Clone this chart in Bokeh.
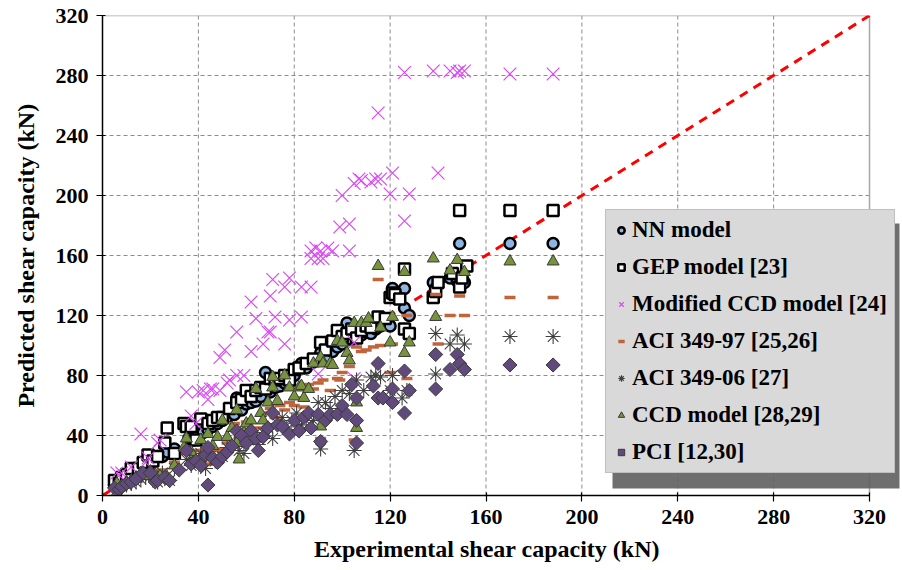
from bokeh.plotting import figure
from bokeh.models import Range1d, FixedTicker, Legend, LegendItem, BoxAnnotation, Title
from bokeh.embed import file_html
from bokeh.resources import INLINE
import math

# ---------------- data ----------------
ticks = [0, 40, 80, 120, 160, 200, 240, 280, 320]
diag = [0, 320]

nn_x = [5, 7, 8, 9, 10, 12, 14, 16, 18, 20, 23, 25, 27, 30, 36, 38, 40, 42, 44, 46, 48, 50, 52, 55, 56, 58, 60, 62, 64, 66,
        68, 70, 72, 74, 76, 78, 80, 83, 85, 88, 91, 93, 96, 98, 100, 102, 104, 106, 108, 110, 112, 114, 116, 120, 121,
        126, 126, 128, 138, 139, 145, 148, 149, 151, 170, 188]
nn_y = [7, 8, 9, 8, 11, 12, 14, 17, 19, 21, 26, 26, 29, 31, 38, 37, 41, 42, 44, 46, 48, 50, 52, 54, 65, 57, 61, 62, 63, 66,
        82, 69, 72, 73, 75, 78, 80, 88, 85, 89, 95, 92, 96, 99, 101, 115, 104, 105, 107, 109, 108, 111, 113, 113, 138,
        138, 125, 120, 142, 138, 145, 143, 168, 142, 168, 168]

gep_x = [5, 7, 8, 10, 12, 15, 17, 19, 21, 23, 26, 27, 30, 34, 35, 37, 39, 41, 44, 46, 48, 50, 53, 56, 58, 60, 62, 64, 66, 68,
         70, 72, 74, 76, 78, 80, 82, 85, 88, 91, 93, 96, 98, 100, 102, 104, 106, 108, 110, 112, 115, 118, 120, 121, 122,
         124, 126, 126, 128, 138, 139, 140, 146, 149, 149, 150, 152, 170, 188]
gep_y = [10, 8, 12, 14, 18, 18, 22, 27, 23, 26, 35, 45, 28, 48, 46, 46, 37, 51, 48, 50, 52, 52, 58, 62, 64, 70, 66, 70, 72, 71,
         78, 77, 78, 80, 77, 84, 85, 88, 91, 102, 97, 103, 110, 106, 108, 111, 105, 110, 113, 112, 119, 118, 132, 135, 134,
         131, 151, 111, 108, 132, 136, 142, 148, 139, 190, 145, 153, 190, 190]

mccd_x = [6, 8, 12, 16, 18, 19, 23, 24, 35, 37, 39, 40, 42, 44, 45, 46, 49, 49, 51, 52, 53, 56, 56, 59, 62, 62, 64, 67, 69, 70,
          70, 71, 72, 76, 76, 78, 78, 83, 83, 87, 87, 87, 89, 90, 90, 91, 92, 94, 96, 99, 100, 103, 103, 105, 105, 105, 107,
          108, 112, 114, 115, 116, 120, 121, 126, 126, 128, 138, 140, 145, 148, 149, 151, 170, 188]
mccd_y = [15, 15, 19, 41, 22, 25, 35, 37, 69, 53, 48, 69, 70, 64, 71, 71, 70, 92, 97, 75, 77, 80, 109, 80, 96, 129, 118, 101,
          109, 109, 133, 144, 119, 101, 139, 117, 145, 119, 139, 139, 158, 163, 165, 158, 81, 163, 158, 165, 163, 179, 200,
          163, 181, 208, 102, 78, 211, 210, 209, 211, 255, 211, 201, 215, 183, 282, 201, 283, 215, 283, 282, 283, 283, 281, 281]

a97_x = [6, 8, 10, 12, 14, 17, 20, 23, 25, 27, 30, 35, 37, 40, 42, 44, 46, 48, 50, 52, 55, 57, 60, 62, 65, 67, 70, 72, 74, 76,
         78, 80, 82, 84, 86, 88, 90, 91, 92, 95, 98, 99, 100, 103, 105, 106, 108, 110, 113, 115, 116, 120, 121, 127, 127,
         139, 140, 145, 149, 151, 170, 188]
a97_y = [5, 7, 8, 9, 10, 13, 14, 10, 17, 11, 22, 28, 24, 30, 30, 21, 30, 31, 29, 35, 48, 38, 49, 41, 45, 55, 58, 52, 60, 57,
         62, 60, 65, 59, 74, 71, 75, 38, 77, 70, 78, 77, 82, 86, 37, 99, 96, 97, 99, 144, 100, 82, 101, 120, 78,
         134, 101, 120, 133, 120, 132, 132]

a06_x = [6, 8, 10, 12, 14, 16, 18, 20, 23, 25, 28, 30, 35, 37, 39, 41, 43, 45, 47, 50, 52, 55, 57, 59, 61, 63, 65, 67, 69, 71,
         73, 75, 77, 79, 81, 83, 85, 88, 90, 91, 93, 95, 97, 100, 103, 105, 106, 109, 112, 114, 116, 120, 121, 125, 127,
         139, 139, 145, 148, 151, 170, 188]
a06_y = [4, 6, 7, 8, 9, 11, 12, 13, 9, 15, 10, 18, 24, 20, 25, 28, 18, 26, 23, 26, 32, 35, 30, 28, 37, 40, 34, 42, 45, 38,
         48, 52, 44, 50, 55, 47, 50, 50, 62, 31, 62, 58, 66, 70, 68, 30, 77, 70, 79, 80, 79, 70, 80, 65, 70,
         108, 81, 101, 107, 101, 106, 106]

ccd_x = [6, 8, 10, 12, 14, 16, 18, 20, 22, 24, 27, 30, 34, 35, 37, 37, 39, 41, 41, 44, 44, 46, 48, 50, 52, 54, 56, 56, 57, 59,
         60, 62, 62, 64, 66, 67, 69, 71, 71, 73, 76, 78, 80, 82, 83, 84, 86, 88, 91, 91, 92, 95, 96, 98, 100, 102, 103, 105,
         106, 106, 108, 110, 111, 115, 116, 120, 121, 126, 126, 128, 138, 139, 145, 148, 151, 170, 188]
ccd_y = [8, 6, 9, 10, 12, 15, 13, 16, 14, 13, 12, 20, 32, 38, 29, 23, 21, 37, 25, 41, 28, 33, 39, 50, 39, 45, 35, 57, 24, 42,
         48, 44, 50, 71, 55, 50, 62, 72, 79, 63, 80, 72, 66, 72, 73, 65, 71, 88, 92, 46, 88, 88, 87, 103, 102, 95, 90, 115,
         62, 45, 115, 115, 118, 153, 112, 102, 119, 149, 95, 102, 158, 119, 150, 157, 149, 156, 156]

pci_x = [5, 7, 8, 10, 12, 14, 17, 20, 22, 23, 26, 28, 32, 35, 37, 39, 41, 43, 44, 44, 46, 48, 50, 52, 54, 56, 58, 60, 62, 64,
         65, 67, 69, 71, 73, 75, 78, 80, 82, 84, 86, 87, 90, 91, 93, 95, 98, 100, 102, 104, 106, 106, 106, 113, 115, 115,
         117, 121, 121, 126, 126, 128, 139, 139, 145, 148, 149, 151, 170, 188]
pci_y = [5, 4, 6, 8, 9, 11, 15, 15, 9, 10, 12, 10, 17, 30, 21, 23, 20, 27, 7, 32, 25, 22, 26, 29, 33, 43, 40, 35, 43, 38,
         30, 39, 45, 55, 47, 46, 41, 50, 43, 52, 55, 45, 54, 36, 50, 54, 54, 60, 54, 74, 65, 50, 35, 73, 88, 65,
         65, 71, 62, 83, 55, 70, 94, 71, 84, 94, 88, 84, 87, 87]

labels = ["NN model", "GEP model [23]", "Modified CCD model [24]", "ACI 349-97 [25,26]",
          "ACI 349-06 [27]", "CCD model [28,29]", "PCI [12,30]"]
x_title = "Experimental shear capacity (kN)"
y_title = "Predicted shear capacity (kN)"

# ---------------- figure ----------------
W, H = 902, 570
L, T, B = 102, 15, 75
AX_W = 767                      # pixel width of the 0..320 axis span
FONT = "'Liberation Serif', 'Times New Roman', serif"

xmax = ticks[-1]
px_per_x = AX_W / xmax
x_end = (W - L) / px_per_x       # frame reaches the right canvas edge so the legend is not clipped

p = figure(width=W, height=H, output_backend="svg", toolbar_location=None,
           x_range=Range1d(0, x_end), y_range=Range1d(0, xmax),
           min_border_left=L, min_border_right=0, min_border_top=T, min_border_bottom=B,
           y_axis_label=y_title)
p.background_fill_color = "white"
p.border_fill_color = "white"
p.outline_line_color = None
p.xgrid.visible = False
p.ygrid.visible = False

for ax in (p.xaxis[0], p.yaxis[0]):
    ax.ticker = FixedTicker(ticks=ticks)
    ax.bounds = (0, xmax)
    ax.axis_line_color = "black"
    ax.axis_line_width = 1.5
    ax.major_tick_line_color = "black"
    ax.major_tick_line_width = 1.2
    ax.major_tick_out = 6
    ax.major_tick_in = 3
    ax.minor_tick_line_color = None
    ax.major_label_text_font = FONT
    ax.major_label_text_font_style = "bold"
    ax.major_label_text_font_size = "22px"
    ax.major_label_text_color = "black"
    ax.major_label_standoff = 8
    ax.axis_label_text_font = FONT
    ax.axis_label_text_font_style = "bold"
    ax.axis_label_text_font_size = "24px"
    ax.axis_label_text_color = "black"
p.yaxis[0].axis_label_standoff = 14

# x-axis title centred under the 0..320 span (the frame itself runs on to the canvas edge)
xt = Title(text=x_title, align="left", offset=AX_W / 2 - 172, standoff=14,
           text_font=FONT, text_font_style="bold", text_font_size="24px", text_color="black")
p.add_layout(xt, "below")

# dashed grid (limited to the 0..320 square) and the grey plot-area border
inner = ticks[1:-1]
p.segment(x0=inner, y0=[0] * len(inner), x1=inner, y1=[xmax] * len(inner),
          line_color="#8C8C8C", line_width=1, line_dash="4 3")
p.segment(x0=[0] * len(inner), y0=inner, x1=[xmax] * len(inner), y1=inner,
          line_color="#8C8C8C", line_width=1, line_dash="4 3")
p.segment(x0=[0, xmax], y0=[xmax, 0], x1=[xmax, xmax], y1=[xmax, xmax],
          line_color="#A6A6A6", line_width=1.5)

# reference line
p.line(diag, diag, line_color="#FF0000", line_width=3, line_dash="9 7")

r_nn = p.scatter(nn_x, nn_y, marker="circle", size=11, fill_color="#8DB4E2",
                 line_color="black", line_width=2.5)
r_gep = p.scatter(gep_x, gep_y, marker="square", size=11, fill_color="white",
                  line_color="black", line_width=2.5)
r_mccd = p.scatter(mccd_x, mccd_y, marker="x", size=18, line_color="#D94AF2", line_width=1.2)
r_a97 = p.scatter(a97_x, a97_y, marker="dash", size=11, line_color="#C0643C", line_width=3.5)
r_a06 = p.scatter(a06_x, a06_y, marker="asterisk", size=15, line_color="#404040", line_width=1.1)
r_ccd = p.scatter(ccd_x, ccd_y, marker="triangle", size=12, fill_color="#77933C",
                  line_color="#3A3A3A", line_width=1)
r_pci = p.scatter(pci_x, pci_y, marker="square", angle=math.pi / 4, size=10, fill_color="#604A7B",
                  line_color="#3A3A3A", line_width=1)

renderers = [r_nn, r_gep, r_mccd, r_a97, r_a06, r_ccd, r_pci]

# legend shadow (decoration), position derived from the legend box in pixels
px_per_y = (H - T - B) / xmax
leg_left_px, leg_bottom_px = 503, 22          # legend location in frame pixels
sh_dx, sh_dy, sh_w, sh_h = 7, 15, 287, 265
shadow = BoxAnnotation(left=(leg_left_px + sh_dx) / px_per_x,
                       right=(leg_left_px + sh_dx + sh_w) / px_per_x,
                       bottom=(leg_bottom_px - sh_dy) / px_per_y,
                       top=(leg_bottom_px - sh_dy + sh_h) / px_per_y,
                       fill_color="#5F5F5F", fill_alpha=0.9, line_color=None)
p.add_layout(shadow)

legend = Legend(items=[LegendItem(label=lab, renderers=[r]) for lab, r in zip(labels, renderers)],
                location=(leg_left_px, leg_bottom_px))
legend.label_text_font = FONT
legend.label_text_font_style = "bold"
legend.label_text_font_size = "23px"
legend.label_text_color = "black"
legend.background_fill_color = "#D9D9D9"
legend.background_fill_alpha = 1.0
legend.border_line_color = "#A6A6A6"
legend.border_line_width = 1
legend.glyph_width = 16
legend.glyph_height = 24
legend.label_height = 24
legend.label_standoff = 3
legend.spacing = 11
legend.padding = 7
legend.margin = 0
p.add_layout(legend)

open("out.html", "w").write(file_html(p, INLINE))
